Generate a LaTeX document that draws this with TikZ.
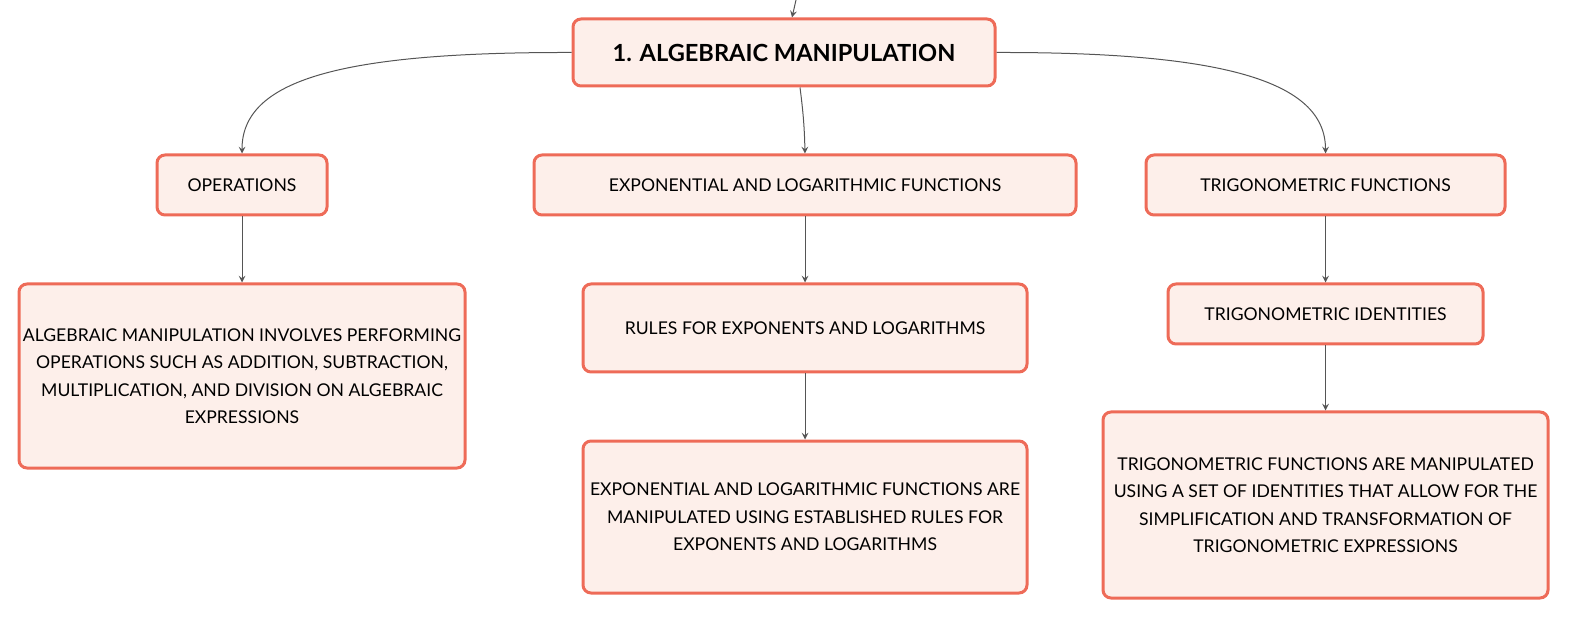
\documentclass[tikz,border=0pt]{standalone}
\usepackage{fontspec}
\setmainfont{Lato}
\usepackage{xcolor}
\usepackage{tikz}
\usetikzlibrary{
	arrows,
	positioning
}
\tikzstyle{every picture}+=[>=stealth]

\definecolor{boxline}{HTML}{EE6B58}
\definecolor{boxfill}{HTML}{FDEFEA}
\definecolor{linkgray}{HTML}{555555}

\tikzset{
	topic/.style={draw=boxline, fill=boxfill, line width=1.5pt, rounded corners=4pt,
		align=center, inner sep=0pt, font=\fontsize{8.8}{13.7}\selectfont},
	link/.style={->, draw=linkgray, line width=0.5pt}
}

\begin{document}
\begin{tikzpicture}
	[>=stealth, x=0.5pt, y=-0.5pt]

	\useasboundingbox (0,0) rectangle (1582,624);

	% main topic
	\begin{scope}
		\node[topic, minimum width=211pt, minimum height=33.5pt,
			font=\fontsize{11.8}{14}\selectfont\bfseries] (algebra) at (784,52.5) {1. ALGEBRAIC MANIPULATION};
		\coordinate (enter) at (796,0);
	\end{scope}

	% branches
	\begin{scope}[minimum height=30pt]
		\node[topic, minimum width=85pt]    (ops)      at (242,185)    {OPERATIONS};
		\node[topic, minimum width=271pt]   (expfun)   at (805,185)    {EXPONENTIAL AND LOGARITHMIC FUNCTIONS};
		\node[topic, minimum width=179.5pt] (trigfun)  at (1325.5,185) {TRIGONOMETRIC FUNCTIONS};
	\end{scope}

	% details
	\begin{scope}
		\node[topic, minimum width=223pt, minimum height=92pt] (opsdesc) at (242,376)
			{ALGEBRAIC MANIPULATION INVOLVES PERFORMING\\ OPERATIONS SUCH AS ADDITION, SUBTRACTION,\\ MULTIPLICATION, AND DIVISION ON ALGEBRAIC\\ EXPRESSIONS};
		\node[topic, minimum width=222pt, minimum height=44pt] (rules) at (805,328)
			{RULES FOR EXPONENTS AND LOGARITHMS};
		\node[topic, minimum width=222pt, minimum height=76pt] (expdesc) at (805,517)
			{EXPONENTIAL AND LOGARITHMIC FUNCTIONS ARE\\ MANIPULATED USING ESTABLISHED RULES FOR\\ EXPONENTS AND LOGARITHMS};
		\node[topic, minimum width=157.5pt, minimum height=30pt] (identities) at (1325.5,314)
			{TRIGONOMETRIC IDENTITIES};
		\node[topic, minimum width=222.5pt, minimum height=93pt] (trigdesc) at (1325.5,505)
			{TRIGONOMETRIC FUNCTIONS ARE MANIPULATED\\ USING A SET OF IDENTITIES THAT ALLOW FOR THE\\ SIMPLIFICATION AND TRANSFORMATION OF\\ TRIGONOMETRIC EXPRESSIONS};
	\end{scope}

	% connectors
	\begin{scope}[link]
		\draw (enter) -- ([xshift=4pt]algebra.north);
		\draw (algebra.west) .. controls (340,52) and (242,80) .. (ops.north);
		\draw ([xshift=8pt]algebra.south) to[bend left=3] (expfun.north);
		\draw (algebra.east) .. controls (1220,52) and (1325.5,80) .. (trigfun.north);

		\draw (ops.south) -- (opsdesc.north);
		\draw (expfun.south) -- (rules.north);
		\draw (rules.south) -- (expdesc.north);
		\draw (trigfun.south) -- (identities.north);
		\draw (identities.south) -- (trigdesc.north);
	\end{scope}

\end{tikzpicture}
\end{document}
